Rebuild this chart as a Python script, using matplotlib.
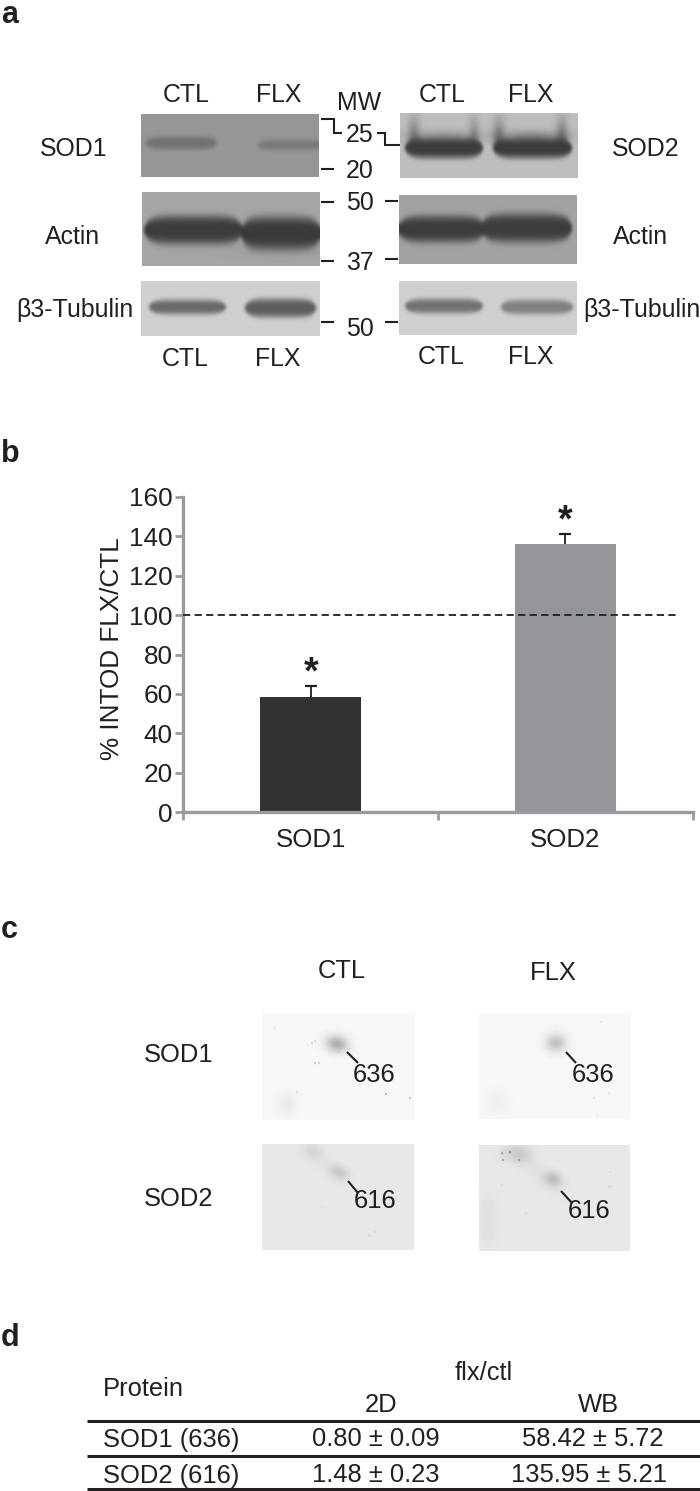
import numpy as np
import matplotlib
matplotlib.use('Agg')
import matplotlib.pyplot as plt

plt.rcParams['font.family'] = ['Liberation Sans', 'DejaVu Sans']
INK = '#231f20'
W, H = 700, 1491

# ---- data ----
categories = ['SOD1', 'SOD2']
means = [58.42, 135.95]
errors = [5.72, 5.21]
bar_colors = ['#333132', '#939598']
y_ticks = [0, 20, 40, 60, 80, 100, 120, 140, 160]
reference_level = 100

table_header = ['Protein', 'flx/ctl', '2D', 'WB']
table_proteins = ['SOD1 (636)', 'SOD2 (616)']
table_2d = ['0.80 ± 0.09', '1.48 ± 0.23']
table_wb = ['58.42 ± 5.72', '135.95 ± 5.21']

fig = plt.figure(figsize=(W / 100, H / 100), dpi=100, facecolor='white')
pg = fig.add_axes([0, 0, 1, 1])
pg.set_xlim(0, W)
pg.set_ylim(H, 0)
pg.axis('off')


def T(x, y, s, size=18.4, **kw):
    kw.setdefault('ha', 'center')
    kw.setdefault('va', 'center')
    kw.setdefault('color', INK)
    pg.text(x, y + 1.5, s, fontsize=size, **kw)


def panel_letter(y, s):
    pg.text(1, y, s, fontsize=22, fontweight='bold', ha='left', va='baseline', color=INK)


def L(xs, ys, lw=1.5, **kw):
    pg.plot(xs, ys, color=INK, lw=lw, solid_capstyle='butt', solid_joinstyle='miter', **kw)


def soften(im, sigma):
    r = int(3 * sigma) + 1
    k = np.exp(-0.5 * (np.arange(-r, r + 1) / sigma) ** 2)
    k /= k.sum()
    p = np.pad(im, r, mode='edge')
    p = np.apply_along_axis(lambda m: np.convolve(m, k, mode='same'), 0, p)
    p = np.apply_along_axis(lambda m: np.convolve(m, k, mode='same'), 1, p)
    return p[r:-r, r:-r]


def blot(x0, x1, y0, y1, bg, bands=(), spots=(), flares=(), specks=(), sigma=1.3):
    xx, yy = np.meshgrid(np.arange(x0, x1) + .5, np.arange(y0, y1) + .5)
    im = np.full(xx.shape, float(bg))
    for sx0, sy0, sx, sy, dark, rot in spots:
        u = xx - sx0
        v = yy - sy0
        r = np.deg2rad(rot)
        p = u * np.cos(r) + v * np.sin(r)
        q = -u * np.sin(r) + v * np.cos(r)
        a = np.exp(-(p / sx) ** 2 - (q / sy) ** 2)
        im = im + (dark - im) * a
    for fx, yb, sx, dark in flares:
        a = np.exp(-((xx - fx) / sx) ** 2) * np.clip((yy - y0 + 6) / (yb - y0 + 6), 0, 1) ** 1.2
        im = im + (dark - im) * a * (yy < yb + 4)
    for bx0, bx1, yc, h, dark in bands:
        c = (bx0 + bx1) / 2
        w = (bx1 - bx0) / 2
        t = np.clip(np.abs(xx - c) / w, 0, 1.0)
        hx = h * np.sqrt(np.clip(1 - t ** 6, 0.0001, 1))
        a = np.exp(-((yy - yc) / hx) ** 4) * (np.abs(xx - c) < w)
        im = im + (dark - im) * a
    im = soften(im, sigma)
    for sx0, sy0, dark in specks:
        a = np.exp(-((xx - sx0) ** 2 + (yy - sy0) ** 2) / 1.0)
        im = im + (dark - im) * a
    pg.imshow(im, cmap='gray', vmin=0, vmax=255, extent=(x0, x1, y1, y0),
              interpolation='bilinear', aspect='auto', zorder=1)


# ---- panel a: western blots ----
blot(141, 319, 114, 177, 150,
     bands=[(146, 217, 143, 6.5, 112), (258, 324, 145, 5.5, 120)], sigma=2)
blot(400, 578, 113, 178, 190,
     bands=[(405, 483, 148, 10.5, 60), (493, 572, 148, 10.5, 60)],
     flares=[(414, 142, 6, 100), (474, 142, 5, 112), (499, 142, 6, 95), (562, 142, 6, 90)],
     spots=[(444, 136, 36, 6, 150, 0), (531, 136, 36, 6, 140, 0)], sigma=1.5)
blot(142, 320, 192, 266, 165,
     bands=[(144, 243, 230, 14.5, 60), (241, 321, 233, 16.5, 58)],
     spots=[(280, 248, 45, 8, 150, 0)], sigma=1.5)
blot(399, 577, 195, 264, 162,
     bands=[(398, 485, 229, 13.5, 60), (481, 572, 228, 14.5, 60)], sigma=1.5)
blot(141, 320, 281, 336, 207,
     bands=[(149, 226, 307, 7.5, 105), (245, 316, 308, 9.5, 92)], sigma=1.6)
blot(399, 577, 281, 335, 207,
     bands=[(405, 483, 306, 7.5, 112), (501, 573, 307, 7.5, 128)], sigma=1.6)

panel_letter(23, 'a')
for x, y, s in [(186, 94, 'CTL'), (279, 94, 'FLX'), (442, 93, 'CTL'), (531, 93, 'FLX'),
                (185, 357, 'CTL'), (278, 357, 'FLX'), (441, 356, 'CTL'), (531, 355, 'FLX'),
                (359, 102, 'MW'),
                (74, 148, 'SOD1'), (646, 147, 'SOD2'), (72.5, 235, 'Actin'), (641, 235, 'Actin'),
                (75, 309, 'β3-Tubulin'), (642, 309, 'β3-Tubulin'),
                (360, 134, '25'), (360, 170, '20'), (360, 202, '50'), (360, 262, '37'), (360, 328, '50')]:
    T(x, y, s, size=17.9)
L([321, 333.5, 333.5, 342], [119, 119, 133, 133])
L([377, 385, 385, 400], [133, 133, 145, 145])
for y in (169, 202, 261, 322):
    L([321, 334], [y, y])
for y in (201, 259, 322):
    L([385, 398], [y, y])

# ---- panel b: bar chart ----
panel_letter(462, 'b')
ax = fig.add_axes([183.5 / W, 1 - 812 / H, 509 / W, 315 / H])
ax.patch.set_alpha(0)
positions = [i + .5 for i in range(len(categories))]
tops = [m + e for m, e in zip(means, errors)]
ax.bar(positions, means, width=.396, color=bar_colors, zorder=2)
ax.vlines(positions, means, tops, color=INK, lw=1.3, zorder=3)
ax.plot(positions, tops, ls='none', marker='_', ms=8, mew=1.6, color=INK, zorder=3)
ax.axhline(reference_level, xmin=0, xmax=.967, color=INK, lw=1.3, dashes=(4, 2.4), zorder=4)
ax.set_xlim(0, 2)
ax.set_ylim(0, 160)
ax.set_yticks(y_ticks)
ax.set_xticks([0, 1, 2])
ax.set_xticklabels([])
ax.tick_params(axis='both', colors='#9a9b9e', width=2, length=6, direction='out')
ax.tick_params(axis='y', labelsize=18.8, labelcolor=INK, pad=2)
for s in ('top', 'right'):
    ax.spines[s].set_visible(False)
for s in ('left', 'bottom'):
    ax.spines[s].set_color('#9a9b9e')
    ax.spines[s].set_linewidth(2.4)
for p, s in zip(positions, categories):
    ax.annotate(s, (p, 0), xytext=(0, -20), textcoords='offset points', ha='center', va='center',
                fontsize=18.6, color=INK, annotation_clip=False)
for p, t in zip(positions, tops):
    ax.annotate('*', (p, t), xytext=(0, -4), textcoords='offset points', ha='center', va='bottom',
                fontsize=27, fontweight='bold', color=INK, annotation_clip=False)
T(112, 647, '% INTOD FLX/CTL', size=18.8, rotation=90)

# ---- panel c: 2D gels ----
panel_letter(938, 'c')
T(342, 970, 'CTL')
T(553, 971, 'FLX')
T(179, 1053, 'SOD1')
T(179, 1198, 'SOD2')
blot(262, 414, 1013, 1120, 247,
     spots=[(337, 1044, 11, 8, 170, 10), (287, 1104, 10, 10, 232, 0)],
     specks=[(312, 1043, 200), (315, 1041, 205), (315, 1063, 180), (319, 1063, 200), (386, 1094, 165),
             (410, 1098, 175), (275, 1028, 220), (339, 1052, 195), (297, 1092, 210)])
blot(479, 630, 1013, 1119, 247,
     spots=[(556, 1043, 10, 9, 192, 0), (498, 1101, 11, 11, 237, 0)],
     specks=[(609, 1093, 215), (594, 1098, 220), (597, 1116, 222), (601, 1022, 222)])
blot(262, 414, 1144, 1250, 232,
     spots=[(330, 1168, 28, 8, 226, 40), (313, 1152, 10, 8, 212, 20), (339, 1172, 9, 6, 196, 25)],
     specks=[(369, 1236, 205), (375, 1232, 210), (322, 1207, 218)])
blot(479, 630, 1145, 1251, 232,
     spots=[(540, 1175, 32, 9, 225, 40), (488, 1220, 10, 28, 224, 0), (518, 1154, 14, 9, 200, 10),
            (553, 1179, 9, 7, 186, 20)],
     specks=[(502, 1153, 120), (510, 1152, 115), (503, 1160, 135), (519, 1160, 135), (609, 1187, 210),
             (610, 1172, 212), (610, 1186, 210), (502, 1185, 212), (526, 1213, 214)])
for x, y, s, xs, ys in [(374, 1073, '636', [347, 358], [1052, 1063]),
                        (593, 1073, '636', [566, 576], [1052, 1063]),
                        (375, 1200, '616', [348, 358], [1181, 1193]),
                        (589, 1210, '616', [561, 572], [1191, 1203])]:
    T(x, y, s, zorder=3)
    L(xs, ys, zorder=3)

# ---- panel d: table ----
panel_letter(1346, 'd')
T(143, 1387, table_header[0])
T(484, 1372, table_header[1])
T(381, 1403, table_header[2])
T(598, 1403, table_header[3])
row_y = [1438, 1474]
for y, a, b, c, xb in zip(row_y, table_proteins, table_2d, table_wb, (593, 589)):
    T(103, y, a, ha='left')
    T(376, y, b)
    T(xb, y, c)
for y in (1421, 1456, 1489):
    L([87, 700], [y, y], lw=2.2)
pg.set_xlim(0, W)
pg.set_ylim(H, 0)

fig.savefig('out.png', dpi=100, facecolor='white')
